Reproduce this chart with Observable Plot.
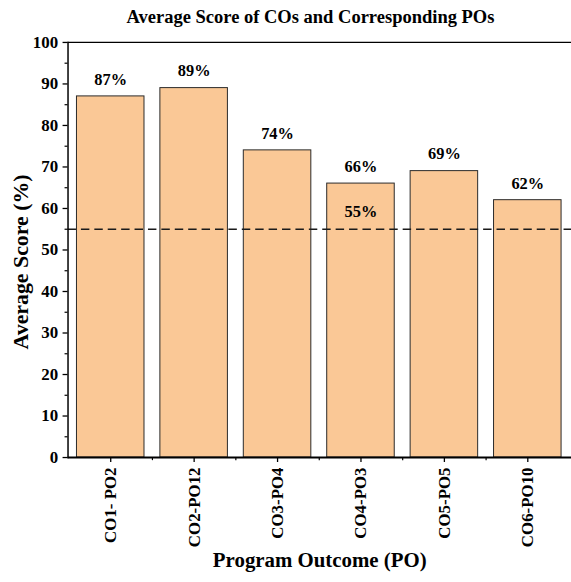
<!DOCTYPE html>
<html>
<head>
<meta charset="utf-8">
<script src="https://cdn.jsdelivr.net/npm/d3@7"></script>
<script src="https://cdn.jsdelivr.net/npm/@observablehq/plot@0.6"></script>
<style>
  html, body { margin: 0; padding: 0; background: #fff; overflow: hidden; }
  #title { box-sizing: border-box; width: 571px; height: 34px; padding: 7px 0 0 50px; text-align: center;
    font-family: "Liberation Serif", serif; font-weight: bold; font-size: 18.5px; line-height: 20px; color: #000; }
  svg, svg text { font-family: "Liberation Serif", serif !important; font-weight: bold; }
  svg { display: block; }
</style>
</head>
<body>
<div id="title">Average Score of COs and Corresponding POs</div>
<div id="chart"></div>
<script>
const categories = ["CO1- PO2", "CO2-PO12", "CO3-PO4", "CO4-PO3", "CO5-PO5", "CO6-PO10"];
const scores = [87, 89, 74, 66, 69, 62];
const threshold = 55;
const thresholdLabel = "55%";
const thresholdLabelCategory = "CO4-PO3";
const yMajorTicks = [0, 10, 20, 30, 40, 50, 60, 70, 80, 90, 100];
const yMinorTicks = [5, 15, 25, 35, 45, 55, 65, 75, 85, 95];
const xTitle = "Program Outcome (PO)";
const yTitle = "Average Score (%)";

const data = categories.map((c, i) => ({category: c, score: scores[i]}));
const font = "Liberation Serif, serif";

const chart = Plot.plot({
  width: 575,
  height: 548,
  marginLeft: 68,
  marginRight: 0,
  marginTop: 8,
  marginBottom: 122,
  style: {fontFamily: font, fontWeight: "bold", color: "#000", background: "#fff"},
  x: {domain: categories, paddingInner: 0.19, paddingOuter: 0.11, label: null},
  y: {domain: [0, 100], label: null},
  marks: [
    Plot.barY(data, {x: "category", y: "score", fill: "#fac896", stroke: "#2a2a2a", strokeWidth: 1}),
    Plot.ruleY([threshold], {stroke: "#1a1a1a", strokeWidth: 1.6, strokeDasharray: "8.5,5"}),
    Plot.text([thresholdLabel], {x: [thresholdLabelCategory], y: [threshold], text: d => d, dy: -18, fontSize: 16.5, fontWeight: "bold", fontFamily: font, fill: "#000"}),
    Plot.text(data, {x: "category", y: "score", text: d => d.score + "%", dy: -17, fontSize: 16.5, fontWeight: "bold", fontFamily: font, fill: "#000"}),
    Plot.ruleY([0], {stroke: "#000", strokeWidth: 2}),
    Plot.ruleY([100], {stroke: "#000", strokeWidth: 1.3}),
    Plot.frame({anchor: "left", stroke: "#000", strokeWidth: 1.5}),
    Plot.axisY(yMajorTicks, {tickSize: 5, tickPadding: 5, fontSize: 17, fontWeight: "bold", fontFamily: font, strokeWidth: 1.3, label: null}),
    Plot.axisY(yMinorTicks, {tickSize: 3, text: null, strokeWidth: 1.2, label: null}),
    Plot.axisX({tickSize: 5, tickPadding: 5, tickRotate: -90, fontSize: 17, fontWeight: "bold", fontFamily: font, strokeWidth: 1.3, label: null}),
    Plot.ruleX(categories.slice(0, -1), {x: d => d, dx: 42, y1: 0, y2: -0.75, stroke: "#000", strokeWidth: 1.2}),
    Plot.text([xTitle], {frameAnchor: "bottom", text: d => d, dy: 110, fontSize: 21, fontWeight: "bold", fontFamily: font, fill: "#000"}),
    Plot.text([yTitle], {frameAnchor: "left", textAnchor: "middle", text: d => d, rotate: -90, dx: -47, dy: 12, fontSize: 22, fontWeight: "bold", fontFamily: font, fill: "#000"})
  ]
});
document.getElementById("chart").appendChild(chart);
</script>
</body>
</html>
